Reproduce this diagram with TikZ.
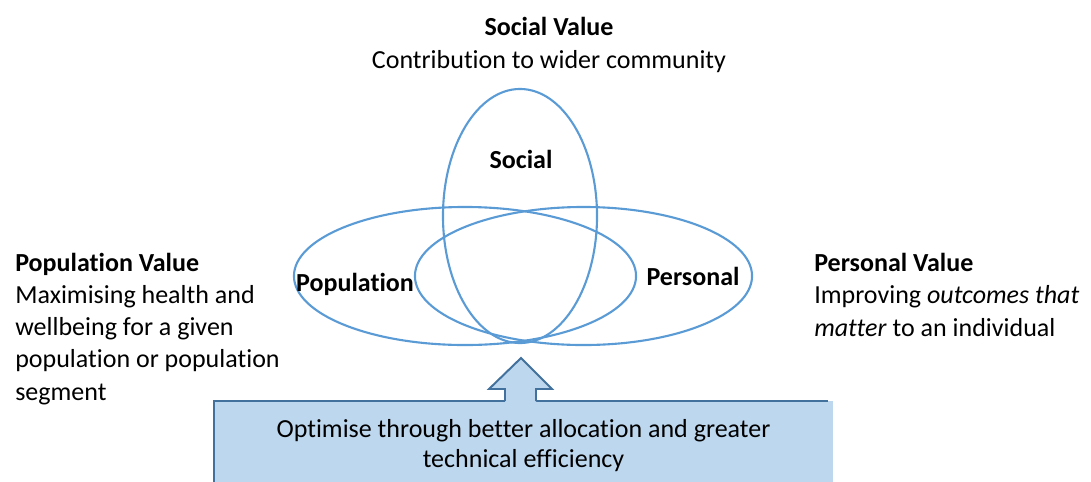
\documentclass[tikz,border=0pt]{standalone}
\usepackage{fontspec}
\setmainfont{Carlito}[Ligatures=NoCommon]
\usetikzlibrary{shapes.geometric}
\definecolor{ringblue}{HTML}{5B9BD5}
\definecolor{boxfill}{HTML}{BDD7EE}
\definecolor{boxline}{HTML}{41719C}

\begin{document}
\begin{tikzpicture}[x=0.025cm, y=-0.025cm,
  ring/.style={draw=ringblue, line width=1.5pt, ellipse, inner sep=0pt},
  lbl/.style={font=\fontsize{18.5}{22.8}\selectfont\bfseries, inner sep=0pt},
  txt/.style={font=\fontsize{18.5}{22.8}\selectfont, inner sep=0pt},
  optbox/.style={fill=boxfill, minimum width=15.475cm, minimum height=2.25cm, inner sep=0pt, align=center, font=\fontsize{18.5}{21.3}\selectfont},
  edge/.style={draw=boxline, line width=1.4pt}
]
\clip (0,0) rectangle (1091,481);

\node[ring, minimum width=3.85cm, minimum height=6.35cm] (social) at (520,216) {};
\node[ring, minimum width=8.55cm, minimum height=3.45cm] (population) at (465,276) {};
\node[ring, minimum width=8.425cm, minimum height=3.45cm] (personal) at (583.5,276) {};

\node[lbl, anchor=base] (sociallbl) at (521,168) {Social};
\node[lbl, anchor=base] (populationlbl) at (355,291) {Population};
\node[lbl, anchor=base] (personallbl) at (693,285) {Personal};

\node[txt, anchor=base] (socialhead) at (549,35.5) {\bfseries Social Value};
\node[txt, anchor=base] (socialtext) at (549,68.5) {Contribution to wider community};
% base anchor sits on the last line
\node[txt, anchor=base west, align=left] (popvalue) at (15,400)
  {\textbf{Population Value}\\Maximising health and\\wellbeing for a given\\population or population\\segment};
\node[txt, anchor=base west, align=left] (persvalue) at (814,336)
  {\textbf{Personal Value}\\Improving \textit{outcomes that}\\\textit{matter} to an individual};

\node[optbox] (optimise) at (523.5,446)
  {Optimise through better allocation and greater\\technical efficiency};
\draw[edge] (optimise.south west) -- (optimise.north west) -- ([xshift=-0.125cm]optimise.north east);

\coordinate (tip) at (521,358);
\fill[boxfill] (505,403) |- (489,389) -- (tip) -- (552,389) -| (536,403) -- cycle;
\draw[edge, line join=miter] (505,401) |- (489,389) -- (tip) -- (552,389) -| (536,401);
\end{tikzpicture}
\end{document}
